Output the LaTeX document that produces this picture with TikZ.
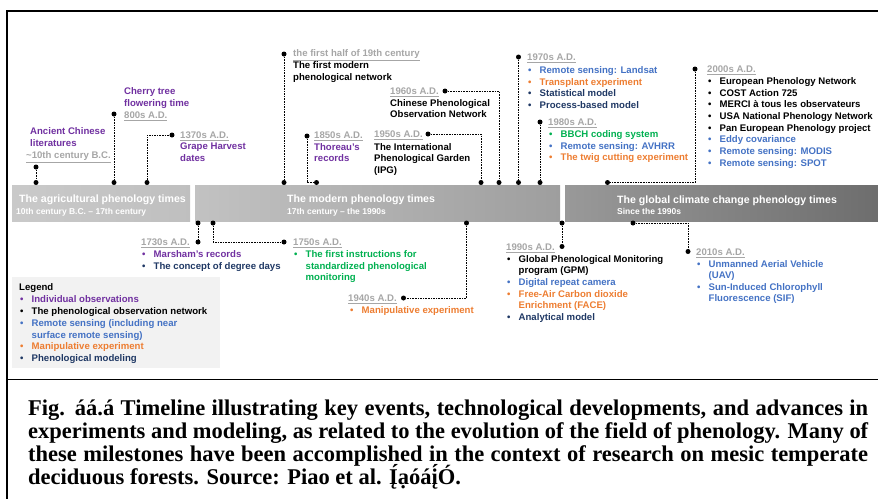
\documentclass[tikz,border=0pt]{standalone}
\usepackage{fontspec}
\usepackage{graphicx}
\setmainfont{Liberation Serif}
\setsansfont{Liberation Sans}
\definecolor{cpur}{HTML}{7030A0}
\definecolor{cblu}{HTML}{4472C4}
\definecolor{cora}{HTML}{ED7D31}
\definecolor{cnav}{HTML}{1F3864}
\definecolor{cgrn}{HTML}{00B050}
\definecolor{cdat}{HTML}{A6A6A6}
\definecolor{cleg}{HTML}{F2F2F2}
\tikzset{
  lbl/.style={anchor=base west,inner sep=0pt,font=\sffamily\bfseries\fontsize{9.6}{11.7}\selectfont},
  dotn/.style={circle,fill=black,inner sep=0pt,minimum size=5pt},
  conn/.style={draw=black,line width=0.8pt,dash pattern=on 1.6pt off 1pt},
  bandtitle/.style={anchor=base west,inner sep=0pt,text=white,font=\sffamily\bfseries\fontsize{10.6}{12}\selectfont},
  bandsub/.style={anchor=base west,inner sep=0pt,text=white,font=\sffamily\bfseries\fontsize{8.5}{10}\selectfont},
  captxt/.style={anchor=base west,inner sep=0pt,font=\rmfamily\bfseries\fontsize{22.5}{23}\selectfont},
  framel/.style={line width=1.8pt,draw=black}
}
\newsavebox\fitbox
\newcommand\fitline[1]{\sbox\fitbox{#1}\ifdim\wd\fitbox>840pt\resizebox{840pt}{\height}{#1}\else\makebox[840pt][s]{#1}\fi}
\newcommand\tx[5]{\node[lbl,text=#4] (#1) at (#2,#3+3.4) {#5};}
\newcommand\bx[5]{\node[lbl,text=#4] (#1) at (#2,#3+3.4) {\makebox[11.5pt][l]{•}#5};}
\newcommand\ix[5]{\node[lbl,text=#4] (#1) at (#2,#3+3.4) {\hspace*{11.5pt}#5};}
\newcommand\dt[4]{\node[lbl,text=cdat] (#1) at (#2,#3+3.4) {\underline{#4}};}
\begin{document}
\begin{tikzpicture}[x=1pt,y=-1pt]
\useasboundingbox (0,0) rectangle (878,499);
% frame
\draw[framel] (878,11) -- (7,11) -- (7,499);
\draw[framel] (7,379.5) -- (878,379.5);
% bands
\shade[left color=black!21,right color=black!25] (12,185) rectangle (190,221);
\shade[left color=black!24,right color=black!38] (195,185) rectangle (560,221);
\shade[left color=black!40,right color=black!57] (565,185) rectangle (878,221);
\node[bandtitle] (b1t) at (19,202) {The agricultural phenology times};
\node[bandsub] (b1s) at (16,214) {10th century B.C. – 17th century};
\node[bandtitle] (b2t) at (287,202) {The modern phenology times};
\node[bandsub] (b2s) at (287,214) {17th century – the 1990s};
\node[bandtitle] (b3t) at (617,203.5) {The global climate change phenology times};
\node[bandsub] (b3s) at (617,214.5) {Since the 1990s};
% legend
\fill[cleg] (12,277) rectangle (220,368);
\tx{lg0}{19}{287}{black}{Legend}
\bx{lg1}{20}{299}{cpur}{Individual observations}
\bx{lg2}{20}{311}{black}{The phenological observation network}
\bx{lg3}{20}{323}{cblu}{Remote sensing (including near}
\ix{lg3b}{20}{335}{cblu}{surface remote sensing)}
\bx{lg4}{20}{346.5}{cora}{Manipulative experiment}
\bx{lg5}{20}{358}{cnav}{Phenological modeling}
% ---- top events
% ancient
\node[dotn] (d1t) at (36,167) {};
\node[dotn] (d1b) at (36,182.5) {};
\draw[conn] (d1t) -- (d1b);
\tx{t1a}{30}{131}{cpur}{Ancient Chinese}
\tx{t1b}{30}{143}{cpur}{literatures}
\dt{t1c}{26}{155}{\textasciitilde10th century B.C.}
% cherry
\node[dotn] (d2t) at (114,114) {};
\node[dotn] (d2b) at (114,182.5) {};
\draw[conn] (d2t) -- (d2b);
\tx{t2a}{124}{91}{cpur}{Cherry tree}
\tx{t2b}{124}{103}{cpur}{flowering time}
\dt{t2c}{124}{115}{800s A.D.}
% 1370s
\node[dotn] (d3t) at (172,135) {};
\node[dotn] (d3b) at (147,182.5) {};
\draw[conn] (d3b) |- (d3t);
\dt{t3a}{180}{135}{1370s A.D.}
\tx{t3b}{180}{146.5}{cpur}{Grape Harvest}
\tx{t3c}{180}{158}{cpur}{dates}
% first half 19th
\node[dotn] (d4t) at (284,54) {};
\node[dotn] (d4b) at (284,182.5) {};
\draw[conn] (d4t) -- (d4b);
\dt{t4a}{293}{53}{the first half of 19th century}
\tx{t4b}{293}{65}{black}{The first modern}
\tx{t4c}{293}{77}{black}{phenological network}
% 1850s
\node[dotn] (d5t) at (307,136) {};
\node[dotn] (d5b) at (316.5,182.5) {};
\draw[conn] (d5t) |- (d5b);
\dt{t5a}{314}{135}{1850s A.D.}
\tx{t5b}{314}{147}{cpur}{Thoreau's}
\tx{t5c}{314}{158.5}{cpur}{records}
% 1950s
\node[dotn] (d6t) at (428,134) {};
\node[dotn] (d6b) at (481,182.5) {};
\draw[conn] (d6t) -| (d6b);
\dt{t6a}{374}{134}{1950s A.D.}
\tx{t6b}{374}{147}{black}{The International}
\tx{t6c}{374}{158.5}{black}{Phenological Garden}
\tx{t6d}{374}{170}{black}{(IPG)}
% 1960s
\node[dotn] (d7t) at (445,91) {};
\node[dotn] (d7b) at (499,182.5) {};
\draw[conn] (d7t) -| (d7b);
\dt{t7a}{390}{91}{1960s A.D.}
\tx{t7b}{390}{103}{black}{Chinese Phenological}
\tx{t7c}{390}{114.5}{black}{Observation Network}
% 1970s
\node[dotn] (d8t) at (518.5,57) {};
\node[dotn] (d8b) at (518.5,182.5) {};
\draw[conn] (d8t) -- (d8b);
\dt{t8a}{527}{57}{1970s A.D.}
\bx{t8b}{528}{70}{cblu}{Remote sensing: Landsat}
\bx{t8c}{528}{82}{cora}{Transplant experiment}
\bx{t8d}{528}{93.5}{cnav}{Statistical model}
\bx{t8e}{528}{105}{cnav}{Process-based model}
% 1980s
\node[dotn] (d9t) at (540,122) {};
\node[dotn] (d9b) at (540,182.5) {};
\draw[conn] (d9t) -- (d9b);
\dt{t9a}{548}{122}{1980s A.D.}
\bx{t9b}{549}{134}{cgrn}{BBCH coding system}
\bx{t9c}{549}{146}{cblu}{Remote sensing: AVHRR}
\bx{t9d}{549}{157.5}{cora}{The twig cutting experiment}
% 2000s
\node[dotn] (d10t) at (695,69) {};
\node[dotn] (d10b) at (607.5,182.5) {};
\draw[conn] (d10t) |- (d10b);
\dt{t10a}{707}{69}{2000s A.D.}
\bx{t10b}{708}{81}{black}{European Phenology Network}
\bx{t10c}{708}{93}{black}{COST Action 725}
\bx{t10d}{708}{104.5}{black}{MERCI à tous les observateurs}
\bx{t10e}{708}{116}{black}{USA National Phenology Network}
\bx{t10f}{708}{128}{black}{Pan European Phenology project}
\bx{t10g}{708}{139.5}{cblu}{Eddy covariance}
\bx{t10h}{708}{151}{cblu}{Remote sensing: MODIS}
\bx{t10i}{708}{163}{cblu}{Remote sensing: SPOT}
% ---- bottom events
% 1730s
\node[dotn] (d11a) at (198,223) {};
\node[dotn] (d11b) at (198,242) {};
\draw[conn] (d11a) -- (d11b);
\dt{u11a}{141}{242}{1730s A.D.}
\bx{u11b}{142}{254}{cpur}{Marsham's records}
\bx{u11c}{142}{266}{cnav}{The concept of degree days}
% 1750s
\node[dotn] (d12a) at (213,223) {};
\node[dotn] (d12b) at (284,242) {};
\draw[conn] (d12a) |- (d12b);
\dt{u12a}{293}{242}{1750s A.D.}
\bx{u12b}{294}{254}{cgrn}{The first instructions for}
\ix{u12c}{294}{266}{cgrn}{standardized phenological}
\ix{u12d}{294}{277.5}{cgrn}{monitoring}
% 1940s
\node[dotn] (d13a) at (466.5,223) {};
\node[dotn] (d13b) at (403.5,298) {};
\draw[conn] (d13a) |- (d13b);
\dt{u13a}{348}{298}{1940s A.D.}
\bx{u13b}{350}{310}{cora}{Manipulative experiment}
% 1990s
\node[dotn] (d14a) at (562,223) {};
\node[dotn] (d14b) at (562,246.5) {};
\draw[conn] (d14a) -- (d14b);
\dt{u14a}{506}{247}{1990s A.D.}
\bx{u14b}{507}{259}{black}{Global Phenological Monitoring}
\ix{u14c}{507}{270.5}{black}{program (GPM)}
\bx{u14d}{507}{282}{cblu}{Digital repeat camera}
\bx{u14e}{507}{294}{cora}{Free-Air Carbon dioxide}
\ix{u14f}{507}{305.5}{cora}{Enrichment (FACE)}
\bx{u14g}{507}{317}{cnav}{Analytical model}
% 2010s
\node[dotn] (d15a) at (633,223) {};
\node[dotn] (d15b) at (688,251.5) {};
\draw[conn] (d15a) -| (d15b);
\dt{u15a}{696}{252}{2010s A.D.}
\bx{u15b}{697}{264}{cblu}{Unmanned Aerial Vehicle}
\ix{u15c}{697}{275.5}{cblu}{(UAV)}
\bx{u15d}{697}{287}{cblu}{Sun-Induced Chlorophyll}
\ix{u15e}{697}{298.5}{cblu}{Fluorescence (SIF)}
% caption
\node[captxt] (c1) at (28,415) {\fitline{Fig. áá.á Timeline illustrating key events, technological developments, and advances in}};
\node[captxt] (c2) at (28,438) {\fitline{experiments and modeling, as related to the evolution of the field of phenology. Many of}};
\node[captxt] (c3) at (28,461) {\fitline{these milestones have been accomplished in the context of research on mesic temperate}};
\node[captxt] (c4) at (28,484) {deciduous forests. Source: Piao et al. Į́ạóáį́Ó.};
\end{tikzpicture}
\end{document}
